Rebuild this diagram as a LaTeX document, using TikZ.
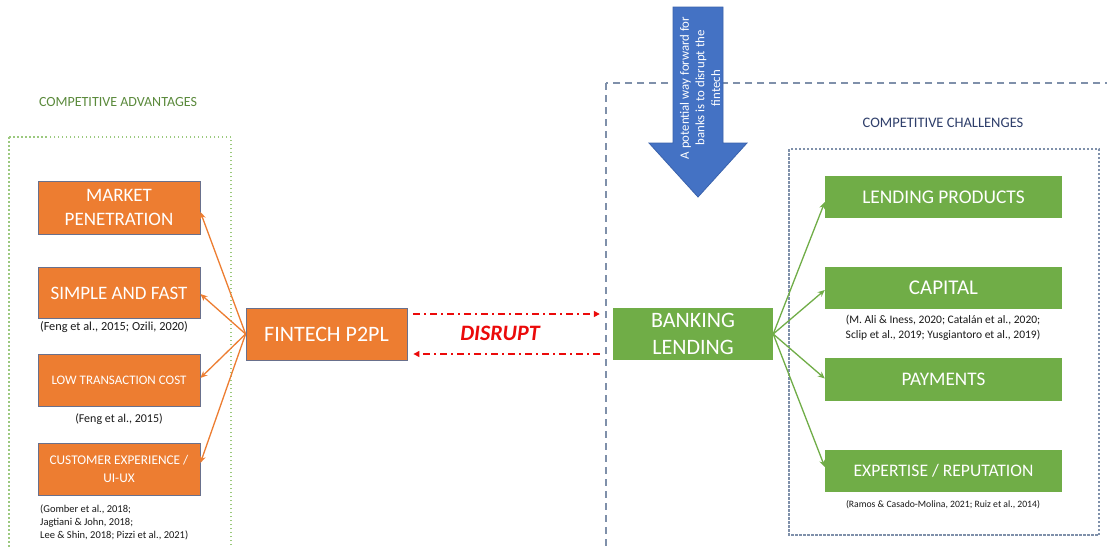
\documentclass[tikz,border=0pt]{standalone}
\usepackage{fontspec}
\setmainfont{Carlito}
\usetikzlibrary{arrows.meta,calc}
\definecolor{orf}{HTML}{ED7D31}
\definecolor{obord}{RGB}{105,112,140}
\definecolor{grf}{HTML}{70AD47}
\definecolor{bluef}{HTML}{4472C4}
\definecolor{blued}{HTML}{3A62AC}
\definecolor{dashb}{HTML}{7F90AA}
\definecolor{dotg}{HTML}{9CC97F}
\definecolor{advtxt}{HTML}{5B8A3C}
\definecolor{chtxt}{HTML}{2F3F6B}
\definecolor{redd}{RGB}{235,10,10}
\definecolor{citec}{RGB}{25,25,25}
\newcommand\fsz[2]{\fontsize{#1}{#2}\selectfont}
\begin{document}
\begin{tikzpicture}[x=1pt,y=-1pt,
  obox/.style={draw=obord, line width=0.8pt, fill=orf, text=white, align=center, minimum width=162pt, inner sep=0pt},
  gbox/.style={fill=grf, text=white, align=center, minimum width=237pt, inner sep=0pt},
  cite/.style={text=citec, align=center, inner sep=0pt},
  oarr/.style={draw=orf, line width=1.3pt, -{Stealth[length=7pt,width=6pt]}},
  garr/.style={draw=grf, line width=1.3pt, -{Stealth[length=7pt,width=6pt]}},
  rarr/.style={draw=redd, line width=1.3pt, dash pattern=on 7pt off 4pt on 2pt off 4pt, -{Triangle[length=6pt,width=6pt]}},
  title/.style={inner sep=0pt}
]
\useasboundingbox (0,0) rectangle (1107,547);
\clip (0,0) rectangle (1107,547);
\fill[white] (0,0) rectangle (1107,547);

% frames
\draw[dotg, line width=1.4pt, dash pattern=on 1.5pt off 2.5pt] (9,137) rectangle (231,560);
\draw[dashb, line width=1.2pt, dash pattern=on 7pt off 5pt] (606,83) rectangle (1120,560);
\draw[dashb, line width=1.1pt, dash pattern=on 2.5pt off 1.5pt] (789,149) rectangle (1099,535);

% titles
\node[title, text=advtxt, font=\fsz{14}{17}] (advt) at (118,102) {COMPETITIVE ADVANTAGES};
\node[title, text=chtxt, font=\fsz{14.5}{17}] (cht) at (943,123) {COMPETITIVE CHALLENGES};

% blue arrow
\filldraw[fill=bluef, draw=blued, line width=0.8pt] (673,7) -- (723,7) -- (723,143) -- (747,143) -- (698,197) -- (649,143) -- (673,143) -- cycle;
\node[rotate=90, text=white, align=center, inner sep=0pt, font=\fsz{12.8}{15.6}] (way) at (700,88) {A potential way forward for\\banks is to disrupt the\\fintech};

% left boxes
\node[obox, minimum height=53pt, font=\fsz{19}{24}] (mp) at (119,207.5) {MARKET\\PENETRATION};
\node[obox, minimum height=51pt, font=\fsz{19}{24}] (sf) at (119,293) {SIMPLE AND FAST};
\node[obox, minimum height=52pt, font=\fsz{13}{16}] (lt) at (119,380) {LOW TRANSACTION COST};
\node[obox, minimum height=52pt, font=\fsz{13.3}{17.5}] (cx) at (119,469) {CUSTOMER EXPERIENCE /\\UI-UX};

\node[cite, font=\fsz{12.3}{15}] (c1) at (114,327) {(Feng et al., 2015; Ozili, 2020)};
\node[cite, font=\fsz{12}{15}] (c2) at (119,419) {(Feng et al., 2015)};
\node[cite, align=left, anchor=west, font=\fsz{10.5}{13}] (c3) at (40,522) {(Gomber et al., 2018;\\Jagtiani \& John, 2018;\\Lee \& Shin, 2018; Pizzi et al., 2021)};

% centre boxes
\node[obox, minimum width=161pt, minimum height=52pt, font=\fsz{22}{26}] (fin) at (326.5,334) {FINTECH P2PL};
\node[gbox, minimum width=160pt, minimum height=52pt, font=\fsz{22}{27}] (bank) at (693,334) {BANKING\\LENDING};

\node[inner sep=0pt, text=redd, font=\fsz{22}{26}\bfseries\itshape] (dis) at (500,333) {DISRUPT};

% right boxes
\node[gbox, minimum height=42pt, font=\fsz{19.4}{24}] (lp) at (943.5,197) {LENDING PRODUCTS};
\node[gbox, minimum height=42pt, font=\fsz{21}{25}] (cap) at (943.5,288) {CAPITAL};
\node[gbox, minimum height=43pt, font=\fsz{19.2}{24}] (pay) at (943.5,379.5) {PAYMENTS};
\node[gbox, minimum height=42pt, font=\fsz{17.6}{22}] (exp) at (943.5,471) {EXPERTISE / REPUTATION};

\node[cite, font=\fsz{11.5}{15}] (c4) at (943,327.5) {(M. Ali \& Iness, 2020; Catalán et al., 2020;\\Sclip et al., 2019; Yusgiantoro et al., 2019)};
\node[cite, font=\fsz{9.7}{12}] (c5) at (943,505) {(Ramos \& Casado-Molina, 2021; Ruiz et al., 2014)};

% connectors
\draw[oarr] (fin.west) -- ([yshift=-4.5pt]mp.east);
\draw[oarr] (fin.west) -- ([yshift=-1pt]sf.east);
\draw[oarr] (fin.west) -- ([yshift=2pt]lt.east);
\draw[oarr] (fin.west) -- ([yshift=6pt]cx.east);

\draw[garr] (bank.east) -- ([yshift=-5pt]lp.west);
\draw[garr] (bank.east) -- ([yshift=-2pt]cap.west);
\draw[garr] (bank.east) -- ([yshift=1pt]pay.west);
\draw[garr] (bank.east) -- ([yshift=4pt]exp.west);

\draw[rarr] ([xshift=6pt,yshift=20pt]fin.east) -- ([xshift=-13pt,yshift=20pt]bank.west);
\draw[rarr] ([xshift=-13pt,yshift=-20pt]bank.west) -- ([xshift=6pt,yshift=-20pt]fin.east);
\end{tikzpicture}
\end{document}
